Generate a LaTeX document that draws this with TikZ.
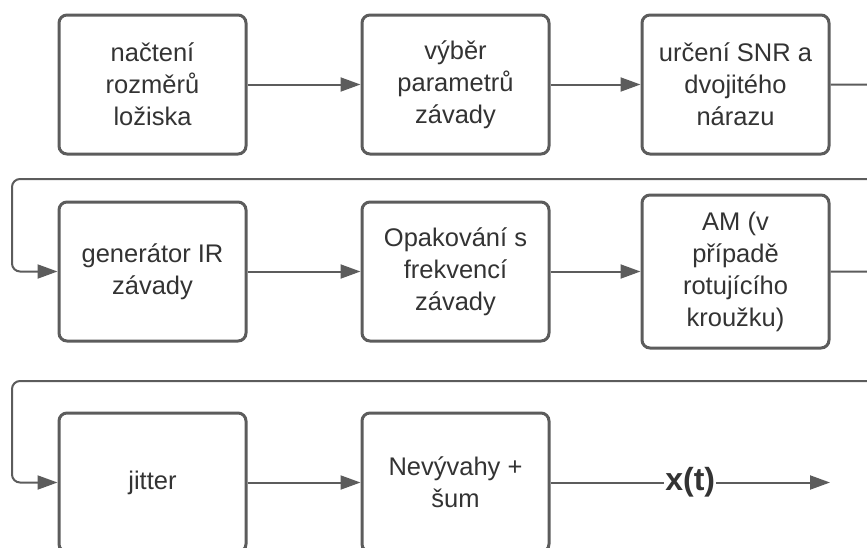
\documentclass[tikz,border=0pt]{standalone}
\usepackage{fontspec}
\setmainfont{Liberation Sans}
\usetikzlibrary{arrows.meta}
\definecolor{linegray}{RGB}{92,92,92}
\definecolor{txtgray}{RGB}{51,51,51}

\begin{document}
\begin{tikzpicture}[
    x=1pt, y=-1pt,
    box/.style={rectangle, draw=linegray, line width=3pt, rounded corners=8pt,
        minimum width=187pt, minimum height=139pt, inner sep=0pt,
        align=center, text=txtgray, font=\fontsize{25.5}{32}\selectfont},
    tall/.style={box, minimum height=153pt},
    conn/.style={draw=linegray, line width=2pt,
        -{Triangle[length=20pt,width=14pt]}},
    wrap/.style={conn, rounded corners=8pt},
]
\useasboundingbox (0,0) rectangle (867,547);

% ===== row 1 =====
\node[box] (load)   at (152.5,84.5) {načtení\\rozměrů\\ložiska};
\node[box] (params) at (455.5,84.5) {výběr\\parametrů\\závady};
\node[box] (snr)    at (735.5,84.5) {určení SNR a\\dvojitého\\nárazu};

% ===== row 2 =====
\node[box]  (irgen)  at (152.5,271.5) {generátor IR\\závady};
\node[box]  (repeat) at (455.5,271.5) {Opakování s\\frekvencí\\závady};
\node[tall] (am)     at (735.5,271.5) {AM (v\\případě\\rotujícího\\kroužku)};

% ===== row 3 (cut off at the bottom) =====
\node[box] (jitter) at (152.5,482.5) {jitter};
\node[box] (noise)  at (455.5,482.5) {Nevývahy +\\šum};

\coordinate (out) at (830,482.5);

\foreach \a/\b in {load/params, params/snr, irgen/repeat, repeat/am,
    jitter/noise}
    \draw[conn] (\a) -- (\b);

% wrap-around connectors leave the page on the right
\draw[wrap] (snr.east) -- (885,84.5) -- (885,179) -- (12,179)
    -- (12,271.5) -- (irgen.west);
\draw[wrap] (am.east) -- (885,271.5) -- (885,381) -- (12,381)
    -- (12,482.5) -- (jitter.west);

\draw[conn] (noise.east) -- (out)
    node[midway, fill=white, inner sep=1pt, text=txtgray,
        font=\fontsize{32}{36}\selectfont\bfseries] (xt) {x(t)};

\end{tikzpicture}
\end{document}
